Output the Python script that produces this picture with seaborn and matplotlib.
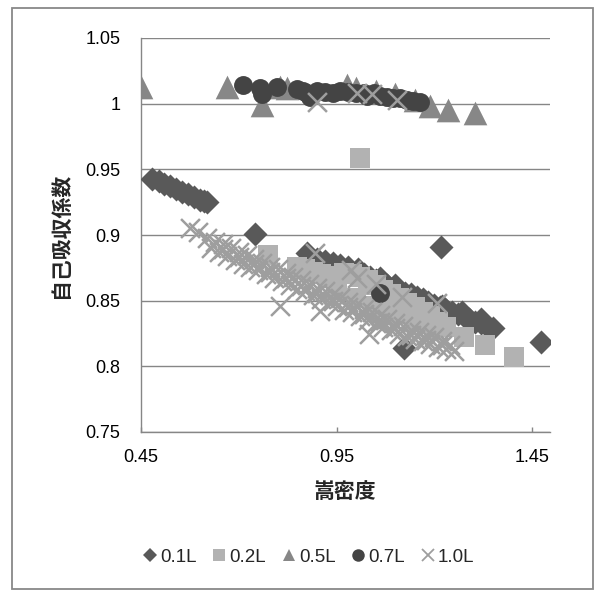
import matplotlib
matplotlib.use("Agg")
import matplotlib.pyplot as plt
from matplotlib.lines import Line2D
from matplotlib.patches import Rectangle
import seaborn as sns
import pandas as pd

# 0.1L (diamonds)
x_01 = [0.478, 0.495, 0.510, 0.525, 0.540, 0.555, 0.570, 0.585, 0.600, 0.610, 0.619,
        0.742,
        0.875, 0.900, 0.920, 0.941, 0.960, 0.980, 1.005, 1.020, 1.035, 1.050, 1.065,
        1.080, 1.095, 1.110, 1.125, 1.140, 1.155, 1.170, 1.185, 1.200, 1.215, 1.230,
        1.245, 1.260, 1.275, 1.290, 1.305, 1.320, 1.335, 1.350,
        1.060, 1.100, 1.150, 1.220, 1.270, 1.320,
        1.217, 1.123, 1.473]
y_01 = [0.943, 0.941, 0.939, 0.937, 0.935, 0.933, 0.931, 0.929, 0.927, 0.926, 0.925,
        0.901,
        0.886, 0.882, 0.880, 0.879, 0.877, 0.876, 0.874, 0.870, 0.868, 0.866, 0.864,
        0.862, 0.860, 0.858, 0.856, 0.855, 0.853, 0.851, 0.849, 0.847, 0.845, 0.843,
        0.841, 0.840, 0.838, 0.836, 0.834, 0.833, 0.831, 0.829,
        0.867, 0.862, 0.850, 0.846, 0.841, 0.836,
        0.891, 0.814, 0.8185]

# 0.2L (squares)
x_02 = [0.775, 0.848, 0.870, 0.890, 0.910, 0.930, 0.950, 0.970, 0.990, 1.010,
        1.030, 1.050, 1.070, 1.090, 1.110, 1.130, 1.150, 1.170, 1.190, 1.210, 1.230,
        0.950, 1.000, 1.050, 1.100, 1.150, 1.200,
        1.010, 1.277, 1.330, 1.404]
y_02 = [0.885, 0.876, 0.874, 0.872, 0.870, 0.868, 0.869, 0.871, 0.870, 0.868,
        0.866, 0.862, 0.858, 0.855, 0.852, 0.848, 0.845, 0.841, 0.838, 0.834, 0.830,
        0.858, 0.852, 0.846, 0.840, 0.834, 0.828,
        0.959, 0.822, 0.816, 0.807]

# 0.5L (triangles)
x_05 = [0.450, 0.669, 0.759, 0.805, 0.823, 0.977, 1.000, 1.050, 1.100, 1.150,
        1.190, 1.236, 1.305]
y_05 = [1.013, 1.013, 0.999, 1.013, 1.012, 1.014, 1.012, 1.010, 1.007, 1.003,
        0.998, 0.995, 0.993]

# 0.7L (circles)
x_07 = [0.711, 0.754, 0.759, 0.797, 0.850, 0.864, 0.875, 0.882, 0.900, 0.920,
        0.941, 0.960, 0.980, 1.000, 1.020, 1.028, 1.045, 1.060, 1.080, 1.095,
        1.112, 1.130, 1.145, 1.163,
        1.060]
y_07 = [1.014, 1.012, 1.007, 1.013, 1.011, 1.010, 1.008, 1.005, 1.010, 1.009,
        1.008, 1.010, 1.009, 1.008, 1.008, 1.006, 1.008, 1.006, 1.005, 1.004,
        1.004, 1.003, 1.002, 1.001,
        0.856]

# 1.0L (crosses)
x_10 = [0.575, 0.595,
        0.62, 0.64, 0.66, 0.68, 0.70, 0.72, 0.74, 0.76, 0.78, 0.80, 0.82, 0.84,
        0.86, 0.88, 0.90, 0.92, 0.94, 0.96, 0.98, 1.00, 1.02, 1.04, 1.06, 1.08,
        1.10, 1.12, 1.14, 1.16, 1.18, 1.20, 1.22, 1.24,
        0.63, 0.65, 0.67, 0.69, 0.71, 0.73, 0.75, 0.77, 0.79, 0.81, 0.83, 0.85,
        0.87, 0.89, 0.91, 0.93, 0.95, 0.97, 0.99, 1.01, 1.03, 1.05, 1.07, 1.09,
        1.11, 1.13, 1.15, 1.17, 1.19, 1.21, 1.23, 1.25,
        0.66, 0.70, 0.74, 0.78, 0.82, 0.86, 0.90, 0.94, 0.98, 1.02, 1.06, 1.10,
        1.14, 1.18, 1.22,
        0.894, 0.988, 1.003, 1.052, 1.118, 1.208,
        0.805, 0.907, 1.034,
        0.900, 1.002, 1.041, 1.105]
y_10 = [0.905, 0.902,
        0.898, 0.895, 0.893, 0.890, 0.887, 0.885, 0.882, 0.879, 0.876, 0.874, 0.871, 0.868,
        0.866, 0.863, 0.860, 0.857, 0.855, 0.852, 0.849, 0.847, 0.844, 0.841, 0.839, 0.836,
        0.833, 0.831, 0.828, 0.826, 0.824, 0.822, 0.819, 0.816,
        0.890, 0.887, 0.884, 0.881, 0.878, 0.876, 0.873, 0.870, 0.867, 0.865, 0.862, 0.859,
        0.857, 0.854, 0.851, 0.849, 0.846, 0.843, 0.841, 0.838, 0.835, 0.833, 0.830, 0.828,
        0.825, 0.823, 0.821, 0.819, 0.817, 0.815, 0.813, 0.812,
        0.889, 0.883, 0.878, 0.872, 0.867, 0.861, 0.856, 0.850, 0.845, 0.840, 0.834, 0.829,
        0.824, 0.820, 0.816,
        0.886, 0.873, 0.867, 0.863, 0.853, 0.848,
        0.846, 0.842, 0.825,
        1.001, 1.008, 1.007, 1.003]

y_ticks = [0.75, 0.80, 0.85, 0.90, 0.95, 1.00, 1.05]
x_ticks = [0.45, 0.95, 1.45]

sns.set_theme(style="white")
plt.rcParams['font.family'] = ['Liberation Sans', 'Noto Sans CJK JP']

series = [
    ("0.1L", x_01, y_01, "D", "#595959", 150),
    ("0.2L", x_02, y_02, "s", "#b2b2b2", 215),
    ("0.5L", x_05, y_05, "^", "#878787", 290),
    ("0.7L", x_07, y_07, "o", "#444444", 185),
    ("1.0L", x_10, y_10, "x", "#9e9e9e", 185),
]

fig = plt.figure(figsize=(6.01, 5.92), dpi=100)
ax = fig.add_axes([141 / 601, 1 - 432 / 592, 409 / 601, 394 / 592])

for name, xs, ys, m, c, s in series:
    df = pd.DataFrame({"x": xs, "y": ys})
    if m == "x":
        sns.scatterplot(data=df, x="x", y="y", marker="x", color=c, s=s,
                        linewidth=1.8, ax=ax, legend=False, zorder=3)
    else:
        sns.scatterplot(data=df, x="x", y="y", marker=m, color=c, s=s,
                        linewidth=0, ax=ax, legend=False, zorder=3)

ax.set_xlim(0.45, 1.496)
ax.set_ylim(0.75, 1.05)
ax.set_xticks(x_ticks)
ax.set_xticklabels(["0.45", "0.95", "1.45"])
ax.set_yticks(y_ticks)
ax.set_yticklabels(["{:g}".format(v) for v in y_ticks])
ax.set_xlabel("")
ax.set_ylabel("")

grid_c = "#868686"
ax.yaxis.grid(True, color=grid_c, linewidth=1.0, zorder=0)
ax.xaxis.grid(False)
ax.set_axisbelow(True)
for sp in ["top", "right"]:
    ax.spines[sp].set_visible(False)
for sp in ["left", "bottom"]:
    ax.spines[sp].set_color(grid_c)
    ax.spines[sp].set_linewidth(1.0)
ax.tick_params(axis="y", length=0, pad=15, labelsize=13, labelcolor="black")
ax.tick_params(axis="x", direction="in", length=3.5, width=1.0, color=grid_c,
               pad=12, labelsize=13, labelcolor="black", bottom=True)

fig.text(60 / 601, 1 - 235 / 592, "自己吸収係数", rotation=90, ha="center", va="center",
         fontsize=15, fontweight="bold", family=["Noto Sans CJK JP"])
fig.text(345 / 601, 1 - 492 / 592, "嵩密度", ha="center", va="center",
         fontsize=15, fontweight="bold", family=["Noto Sans CJK JP"])

handles = []
for name, xs, ys, m, c, s in series:
    if m == "x":
        h = Line2D([], [], linestyle="none", marker="x", color=c, markersize=8,
                   markeredgewidth=1.3)
    else:
        ms = {"D": 7, "s": 8.5, "^": 9, "o": 9}[m]
        h = Line2D([], [], linestyle="none", marker=m, color=c, markersize=ms,
                   markeredgewidth=0)
    handles.append(h)
fig.legend(handles, [s[0] for s in series], loc="center",
           bbox_to_anchor=(309 / 601, 1 - 557 / 592), ncol=5, frameon=False,
           fontsize=13.5, handlelength=0.7, handletextpad=0.2, columnspacing=0.85)

fig.patches.append(Rectangle((12 / 601, 3 / 592), 581 / 601, 581 / 592,
                             transform=fig.transFigure, fill=False,
                             edgecolor="#888888", linewidth=1.3))

fig.savefig("out.png", dpi=100)
